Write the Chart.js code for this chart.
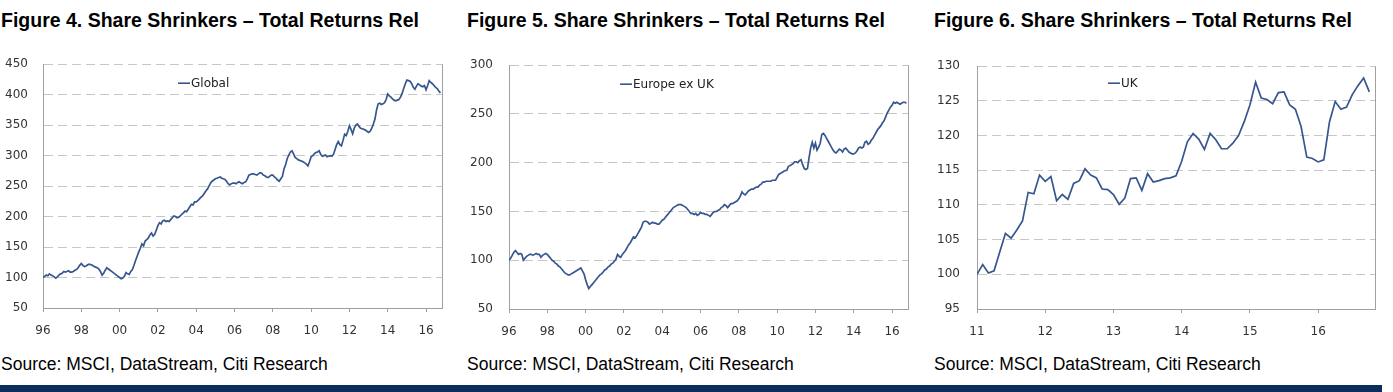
<!DOCTYPE html>
<html><head><meta charset="utf-8">
<script src="https://cdn.jsdelivr.net/npm/chart.js@4/dist/chart.umd.min.js"></script>
<style>
html,body{margin:0;padding:0;background:#fff;width:1393px;height:392px;overflow:hidden;position:relative;}
.title{position:absolute;top:9px;font:bold 19.5px "Liberation Sans",Arial,sans-serif;color:#000;white-space:nowrap;}
.src{position:absolute;top:354px;font:17.5px "Liberation Sans",Arial,sans-serif;color:#000;white-space:nowrap;}
canvas{position:absolute;top:42px;}
.bar{position:absolute;left:0;top:385px;width:1382px;height:7px;background:#0b2d5b;}
</style></head>
<body>
<div class="title" style="left:1px">Figure 4. Share Shrinkers – Total Returns Rel</div>
<div class="title" style="left:467px">Figure 5. Share Shrinkers – Total Returns Rel</div>
<div class="title" style="left:934px">Figure 6. Share Shrinkers – Total Returns Rel</div>
<canvas id="c1" width="455" height="308" style="left:0px"></canvas>
<canvas id="c2" width="460" height="308" style="left:460px"></canvas>
<canvas id="c3" width="468" height="308" style="left:925px"></canvas>
<div class="src" style="left:1px">Source: MSCI, DataStream, Citi Research</div>
<div class="src" style="left:467px">Source: MSCI, DataStream, Citi Research</div>
<div class="src" style="left:934px">Source: MSCI, DataStream, Citi Research</div>
<div class="bar"></div>
<script>
// Monthly values, Jan 1996 .. Oct 2016
const globalValues = [
100,102,104,103,106,104,103,101,99,101,104,106,
107,110,109,110,111,109,109,110,112,113,116,120,
123,120,118,119,121,122,121,120,118,117,116,114,
110,104,107,112,116,114,112,110,108,106,104,102,
100,98,99,102,108,106,105,110,113,120,128,135,
142,148,155,152,160,162,165,170,173,168,171,178,
185,190,188,193,194,192,193,192,195,198,201,200,
198,199,201,204,206,209,208,212,216,220,219,224,
224,226,229,232,234,238,242,245,250,255,258,260,
262,263,264,265,263,262,261,258,254,252,254,255,
255,254,256,257,255,254,256,257,262,268,269,270,
270,269,268,270,272,271,268,267,265,264,266,268,
268,265,263,260,258,262,266,278,285,295,301,306,
308,303,297,295,293,292,291,290,288,286,283,290,
298,300,303,305,306,308,302,299,300,301,298,299,
300,299,302,310,318,323,318,316,325,335,333,340,
349,343,336,345,350,352,348,345,344,343,342,340,
338,340,345,352,360,375,385,386,384,385,387,392,
401,398,396,393,391,390,391,392,396,402,410,418,
424,423,422,418,412,409,414,418,416,414,413,415,
408,415,423,420,418,415,412,410,406,403
];
const europeValues = [
100,102,105,108,110,108,106,107,106,100,102,104,
105,106,106,105,106,107,106,106,103,105,106,107,
106,104,102,100,99,97,96,94,93,91,89,87,
86,85,85,86,87,88,89,90,91,92,89,86,
80,75,71,73,75,77,79,81,83,85,86,88,
90,91,93,94,96,97,99,101,106,104,103,106,
108,110,113,116,118,121,124,123,125,128,131,134,
139,140,140,139,137,138,139,138,138,137,137,139,
141,142,144,146,148,150,152,154,155,156,157,157,
157,156,155,154,152,150,148,148,147,148,146,147,
149,148,148,147,147,146,145,147,149,150,150,151,
152,154,155,157,156,154,156,158,158,159,160,161,
163,166,170,168,167,169,171,172,173,173,174,175,
175,177,178,180,180,181,181,181,181,182,182,182,
185,188,189,190,191,192,192,196,197,198,199,201,
201,200,202,203,198,194,193,194,205,215,221,215,
220,213,216,220,229,230,228,225,222,219,216,213,
211,210,212,214,213,211,214,215,213,211,210,209,
209,210,212,215,216,215,216,221,222,219,220,223,
225,228,231,234,236,238,241,243,247,251,254,257,
259,262,261,262,261,260,261,262,262,261
];
// Monthly values, Jan 2011 .. Oct 2016
const ukValues = [
100.0,101.4,100.2,100.5,103.2,105.9,105.2,106.4,107.7,111.8,111.6,114.3,
113.4,114.1,110.6,111.5,110.8,113.1,113.5,115.2,114.3,113.9,112.3,112.2,
111.5,110.1,111.0,113.8,113.9,112.1,114.5,113.3,113.5,113.8,113.9,114.2,
116.3,119.1,120.3,119.5,118.0,120.3,119.4,118.1,118.1,118.9,120.0,122.0,
124.4,127.7,125.4,125.2,124.6,126.2,126.3,124.4,123.8,121.3,116.9,116.7,
116.2,116.5,122.0,124.9,123.8,124.1,125.9,127.2,128.3,126.3
];
const longTickLabels = ['96','98','00','02','04','06','08','10','12','14','16'];
const ukTickLabels = ['11','12','13','14','15','16'];

const LINE = '#37568f';
const AXIS = '#a0a0a0';
const GRID = '#c6c6c6';
const TICKFONT = {family: '"DejaVu Sans", sans-serif', size: 12};

function build(id, o) {
  const pts = o.values.map((v, i) => ({x: i, y: v}));
  const deco = {
    id: 'deco' + id,
    afterDraw(chart) {
      const ca = chart.chartArea, ctx = chart.ctx;
      ctx.save();
      ctx.strokeStyle = AXIS; ctx.lineWidth = 1;
      ctx.beginPath(); ctx.moveTo(Math.round(ca.right) + 0.5, ca.top); ctx.lineTo(Math.round(ca.right) + 0.5, ca.bottom); ctx.stroke();
      const lx = ca.left + o.legX, ly = ca.top + o.legY;
      ctx.strokeStyle = LINE; ctx.lineWidth = 1.6;
      ctx.beginPath(); ctx.moveTo(lx, ly); ctx.lineTo(lx + 12, ly); ctx.stroke();
      ctx.fillStyle = '#222'; ctx.font = '12px "DejaVu Sans", sans-serif';
      ctx.textBaseline = 'middle'; ctx.textAlign = 'left';
      ctx.fillText(o.label, lx + 13, ly + 0.5);
      ctx.restore();
    }
  };
  new Chart(document.getElementById(id), {
    type: 'line',
    data: {datasets: [{label: o.label, data: pts, borderColor: LINE, borderWidth: 1.7,
      pointRadius: 0, tension: 0, fill: false}]},
    options: {
      responsive: false, animation: false,
      layout: {padding: {top: 6, right: o.padRight, left: 0, bottom: 0}},
      plugins: {legend: {display: false}, tooltip: {enabled: false}},
      scales: {
        x: {type: 'linear', min: 0, max: o.xMax,
          afterBuildTicks: (s) => { s.ticks = o.ticks.map((t, i) => ({value: i * o.step})); },
          afterFit: (s) => { s.height = o.xH; },
          ticks: {autoSkip: false, maxRotation: 0, padding: 12, color: '#333', font: TICKFONT,
            callback: (v) => o.ticks[Math.round(v / o.step)]},
          grid: {display: true, drawOnChartArea: false, drawTicks: true, tickLength: 4, color: AXIS},
          border: {display: true, color: AXIS, width: 1}
        },
        y: {min: o.yMin, max: o.yMax,
          afterFit: (s) => { s.width = o.yW; },
          ticks: {stepSize: o.yStep, padding: o.yPad, color: '#333', font: TICKFONT},
          grid: {color: GRID, drawTicks: false, lineWidth: 1},
          border: {display: true, color: AXIS, width: 1, dash: [9, 5]}
        }
      }
    },
    plugins: [deco]
  });
}

build('c1', {values: globalValues, label: 'Global', ticks: longTickLabels, step: 24, xMax: 250,
  yMin: 50, yMax: 450, yStep: 50, yW: 43, yPad: 15, padRight: 13, xH: 42, legX: 135, legY: 19});
build('c2', {values: europeValues, label: 'Europe ex UK', ticks: longTickLabels, step: 24, xMax: 250,
  yMin: 50, yMax: 300, yStep: 50, yW: 49, yPad: 16, padRight: 12, xH: 41, legX: 111, legY: 19});
build('c3', {values: ukValues, label: 'UK', ticks: ukTickLabels, step: 12, xMax: 70,
  yMin: 95, yMax: 130, yStep: 5, yW: 52, yPad: 17, padRight: 18, xH: 41, legX: 131, legY: 17});
</script>
</body></html>
